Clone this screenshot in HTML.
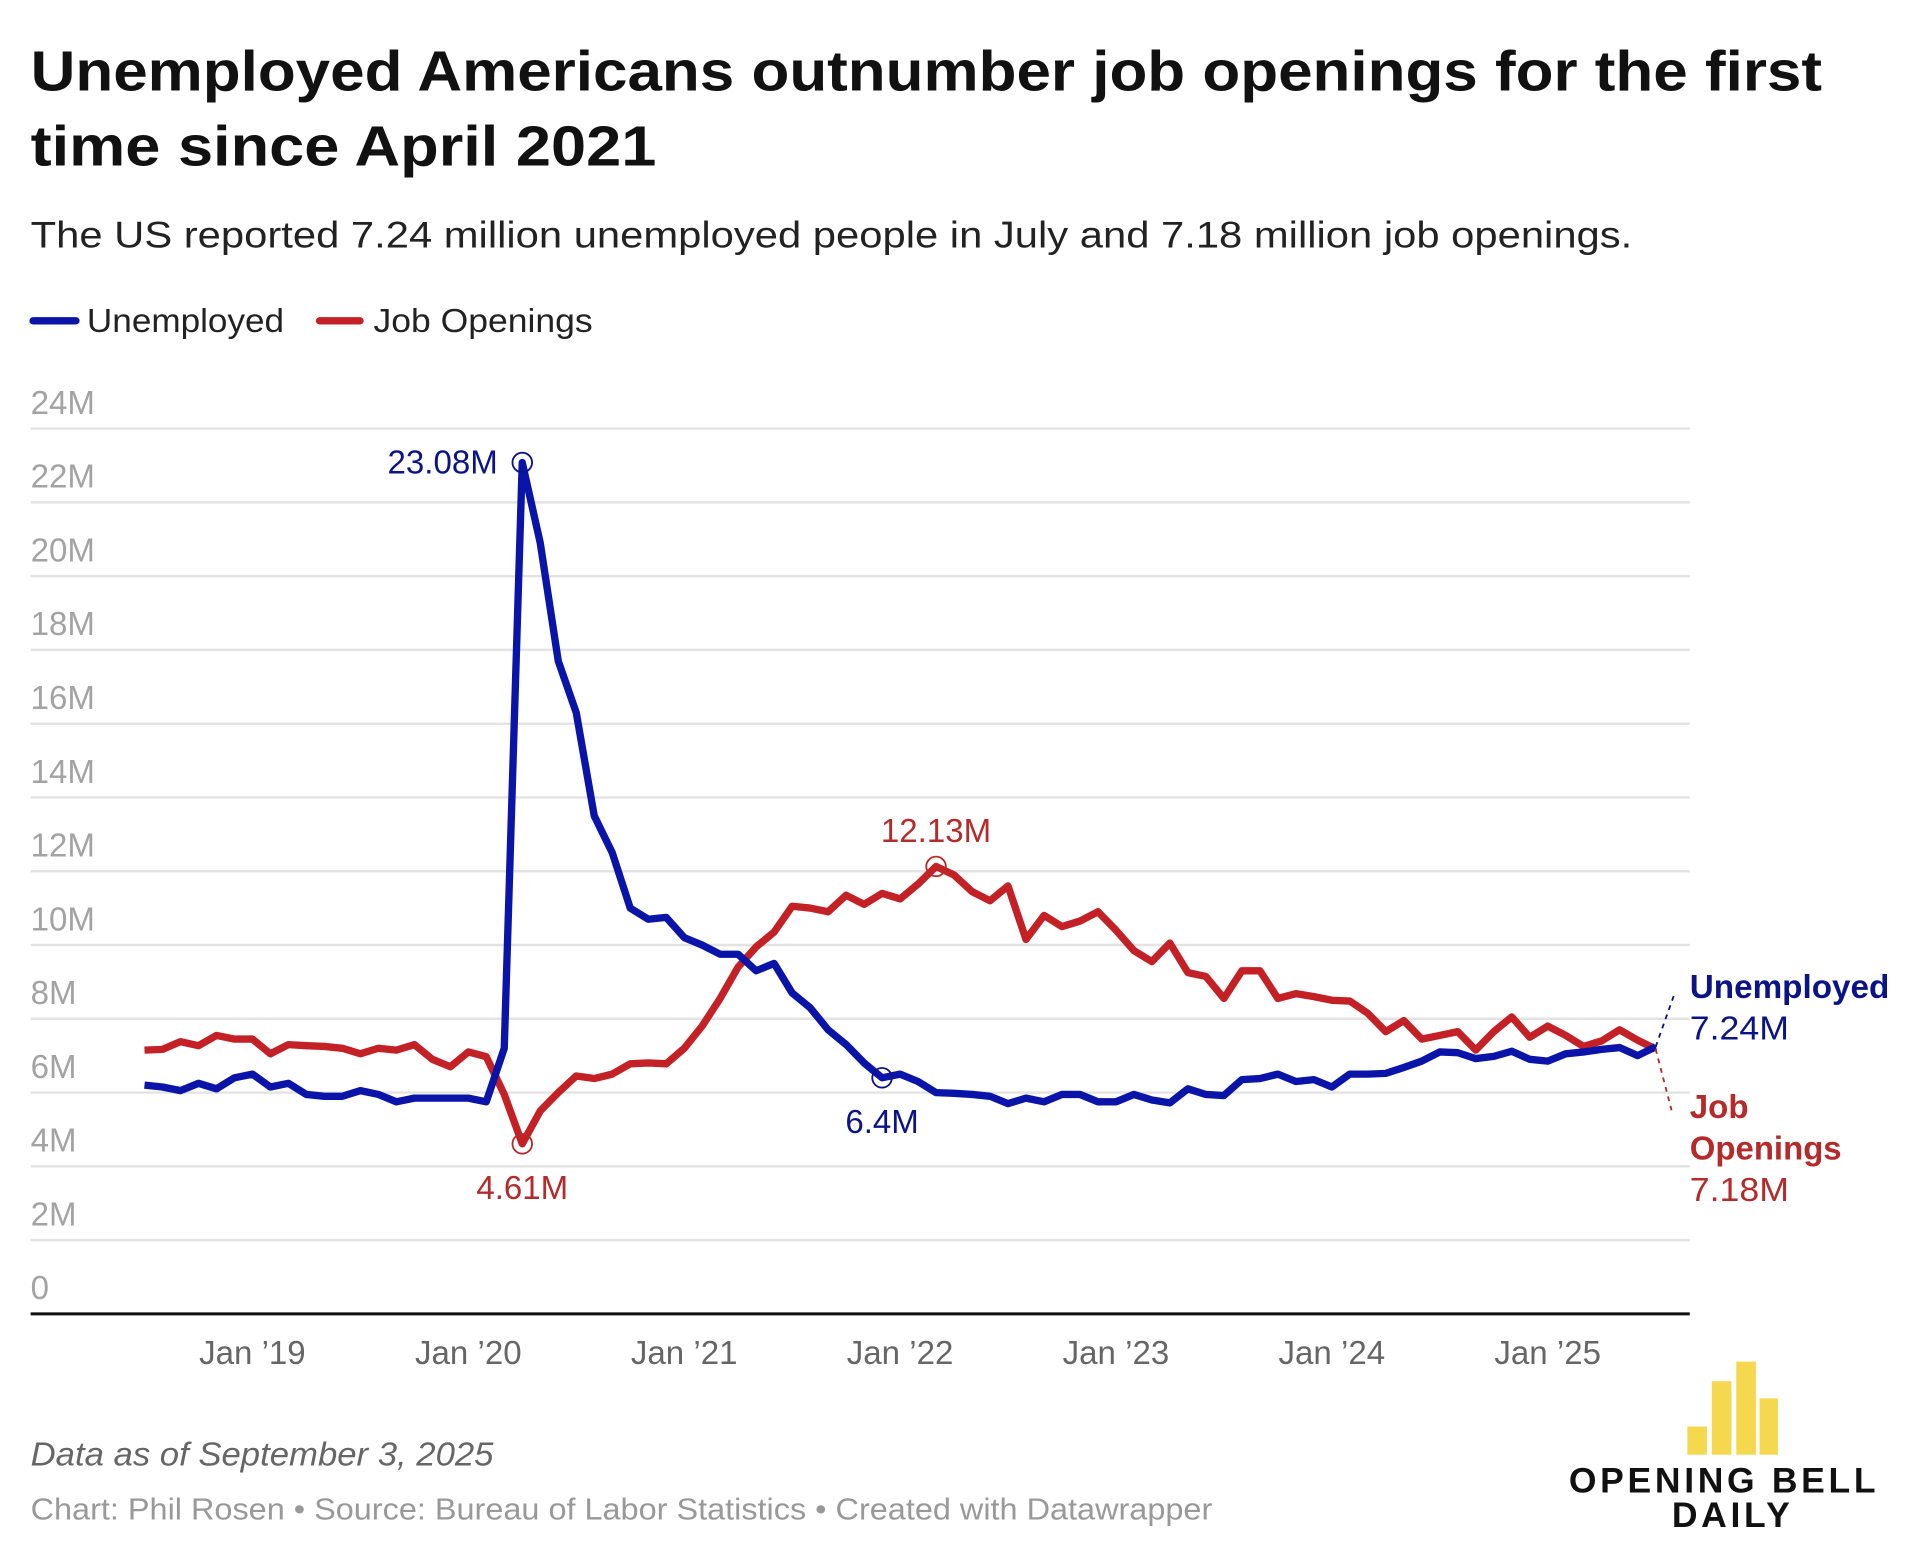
<!DOCTYPE html>
<html><head><meta charset="utf-8"><style>
html,body{margin:0;padding:0;background:#fff;}
svg{display:block;font-family:"Liberation Sans",sans-serif;}
</style></head><body>
<svg id="chart" width="1920" height="1560" viewBox="0 0 1568 1274" xmlns="http://www.w3.org/2000/svg">
<text x="25" y="74" font-size="46" font-weight="bold" fill="#111" textLength="1463" lengthAdjust="spacingAndGlyphs">Unemployed Americans outnumber job openings for the first</text>
<text x="25" y="135" font-size="46" font-weight="bold" fill="#111" textLength="511" lengthAdjust="spacingAndGlyphs">time since April 2021</text>
<text x="25" y="202" font-size="30" fill="#222" textLength="1308" lengthAdjust="spacingAndGlyphs">The US reported 7.24 million unemployed people in July and 7.18 million job openings.</text>
<g>
<g><line x1="27" y1="262" x2="62" y2="262" stroke="#0a14a8" stroke-width="6" stroke-linecap="round"/><text x="71" y="271" font-size="27" fill="#222" textLength="161" lengthAdjust="spacingAndGlyphs">Unemployed</text></g>
<g><line x1="261" y1="262" x2="294" y2="262" stroke="#c42127" stroke-width="6" stroke-linecap="round"/><text x="305" y="271" font-size="27" fill="#222" textLength="179" lengthAdjust="spacingAndGlyphs">Job Openings</text></g>
</g>
<g id="grid"></g>
<g id="yaxis"></g>
<g id="xaxis"></g>
<g id="series"></g>
<g id="annot"></g>
<text x="25" y="1197" font-size="27" font-style="italic" fill="#666" textLength="378" lengthAdjust="spacingAndGlyphs">Data as of September 3, 2025</text>
<text x="25" y="1241" font-size="25" fill="#999" textLength="965" lengthAdjust="spacingAndGlyphs">Chart: Phil Rosen • Source: Bureau of Labor Statistics • Created with Datawrapper</text>
<g>
<rect x="1378" y="1165" width="16" height="23" fill="#f5d84e"/>
<rect x="1398" y="1128" width="16" height="60" fill="#f5d84e"/>
<rect x="1418" y="1112" width="16" height="76" fill="#f5d84e"/>
<rect x="1437" y="1142" width="15" height="46" fill="#f5d84e"/>
<text x="1408" y="1219" font-size="29" font-weight="bold" letter-spacing="3" text-anchor="middle" fill="#111">OPENING BELL</text>
<text x="1415" y="1247" font-size="29" font-weight="bold" letter-spacing="3" text-anchor="middle" fill="#111">DAILY</text>
</g>
</svg>
<script>
const yTicks=[0,2,4,6,8,10,12,14,16,18,20,22,24];
const xTickYears=[2019,2020,2021,2022,2023,2024,2025];
const xTickLabels=["Jan ’19","Jan ’20","Jan ’21","Jan ’22","Jan ’23","Jan ’24","Jan ’25"];
const startYear=2018, startMonth=6; // July 2018 (0-indexed month)
const unemployed=[6.2,6.15,6.05,6.25,6.1,6.4,
6.5,6.15,6.25,5.95,5.9,5.9,6.05,5.95,5.75,5.85,5.85,5.85,
5.85,5.75,7.2,23.08,20.9,17.7,16.3,13.5,12.5,11.0,10.7,10.75,
10.2,10.0,9.75,9.75,9.3,9.5,8.7,8.3,7.7,7.3,6.8,6.4,
6.5,6.3,6.0,5.98,5.95,5.9,5.7,5.85,5.75,5.95,5.95,5.75,
5.75,5.95,5.8,5.72,6.1,5.95,5.92,6.35,6.38,6.5,6.3,6.35,
6.15,6.5,6.5,6.52,6.68,6.85,7.1,7.08,6.92,6.98,7.12,6.9,
6.85,7.05,7.1,7.17,7.22,7.0,7.24];
const jobOpenings=[7.15,7.17,7.38,7.27,7.55,7.45,
7.45,7.05,7.3,7.27,7.25,7.2,7.05,7.2,7.15,7.3,6.9,6.7,
7.1,6.97,5.95,4.61,5.5,6.0,6.45,6.38,6.5,6.78,6.8,6.78,
7.2,7.8,8.55,9.4,9.95,10.35,11.05,11.0,10.9,11.35,11.1,11.4,
11.25,11.65,12.13,11.9,11.45,11.2,11.6,10.15,10.8,10.5,10.65,10.9,
10.4,9.85,9.55,10.05,9.25,9.15,8.55,9.3,9.3,8.55,8.68,8.6,
8.5,8.48,8.15,7.65,7.95,7.45,7.55,7.65,7.15,7.65,8.05,7.5,
7.8,7.55,7.25,7.4,7.7,7.42,7.18];
const ns="http://www.w3.org/2000/svg";
const X0=118, PX_PER_MONTH=176.3/12, Y0=1073, PX_PER_M=60.25/2;
function xScale(i){return X0+i*PX_PER_MONTH;}
function xDate(y,m){return xScale((y-startYear)*12+(m-startMonth));}
function yScale(v){return Y0-v*PX_PER_M;}
function mk(tag,attrs,parent){const e=document.createElementNS(ns,tag);for(const k in attrs)e.setAttribute(k,attrs[k]);parent.appendChild(e);return e;}
const grid=document.getElementById('grid'),yax=document.getElementById('yaxis'),xax=document.getElementById('xaxis'),ser=document.getElementById('series'),ann=document.getElementById('annot');
yTicks.forEach(v=>{
  if(v>0){const l=mk('line',{x1:25,x2:1380,y1:yScale(v),y2:yScale(v),stroke:'#e3e3e3','stroke-width':2},grid);
  
  }
  const t=mk('text',{x:25,y:yScale(v)-12,'font-size':27,fill:'#a3a3a3'},yax);
  t.textContent=v===0?'0':v+'M';
  
  
});
const base=mk('line',{x1:25,x2:1380,y1:Y0,y2:Y0,stroke:'#111','stroke-width':2.5},xax);


xTickYears.forEach((yr,i)=>{
  const t=mk('text',{x:xDate(yr,0),y:1114,'font-size':27,fill:'#666','text-anchor':'middle'},xax);
  t.textContent=xTickLabels[i];
  
  
});
function pathFor(arr){return arr.map((v,i)=>(i?'L':'M')+xScale(i).toFixed(1)+','+yScale(v).toFixed(1)).join(' ');}
const pj=mk('path',{d:pathFor(jobOpenings),fill:'none',stroke:'#c42127','stroke-width':6,'stroke-linejoin':'round'},ser);


const pu=mk('path',{d:pathFor(unemployed),fill:'none',stroke:'#0a14a8','stroke-width':6,'stroke-linejoin':'round'},ser);


function marker(arr,i,color,label,dx,dy,anchor,name){
  const c=mk('circle',{cx:xScale(i),cy:yScale(arr[i]),r:8,fill:'none',stroke:color,'stroke-width':1.5},ann);
  
  
  const t=mk('text',{x:xScale(i)+dx,y:yScale(arr[i])+dy,'font-size':27,fill:color,'text-anchor':anchor},ann);
  t.textContent=label;
  
  
}
const ui=unemployed.indexOf(Math.max(...unemployed));
marker(unemployed,ui,'#0a1488',unemployed[ui]+'M',-20,9,'end','unemployed-peak');
const ji=jobOpenings.indexOf(Math.min(...jobOpenings));
marker(jobOpenings,ji,'#b52a2a',jobOpenings[ji]+'M',0,45,'middle','job-openings-low');
marker(unemployed,41,'#0a1488',unemployed[41]+'M',0,45,'middle','unemployed-low');
const jm=jobOpenings.indexOf(Math.max(...jobOpenings));
marker(jobOpenings,jm,'#b52a2a',jobOpenings[jm]+'M',0,-20,'middle','job-openings-peak');
const li=unemployed.length-1, lx=xScale(li);
const d1=mk('path',{d:`M${lx},${yScale(unemployed[li])} L${lx+16},${yScale(unemployed[li])-45}`,stroke:'#0a1488','stroke-width':1.5,'stroke-dasharray':'4,4',fill:'none'},ann);


const d2=mk('path',{d:`M${lx},${yScale(jobOpenings[li])} L${lx+13},${yScale(jobOpenings[li])+50}`,stroke:'#b52a2a','stroke-width':1.5,'stroke-dasharray':'4,4',fill:'none'},ann);


const endLabels=[['Unemployed',815,'#0a1488','bold',163],[unemployed[li]+'M',849,'#0a1488','normal',81],['Job',913,'#b52a2a','bold',48],['Openings',947,'#b52a2a','bold',124],[jobOpenings[li]+'M',981,'#b52a2a','normal',81]];
endLabels.forEach(e=>{
  const t=mk('text',{x:1380,y:e[1],'font-size':27,fill:e[2],'font-weight':e[3],textLength:e[4],lengthAdjust:'spacingAndGlyphs'},ann);
  t.textContent=e[0];
  
  
});
</script>
</body></html>
